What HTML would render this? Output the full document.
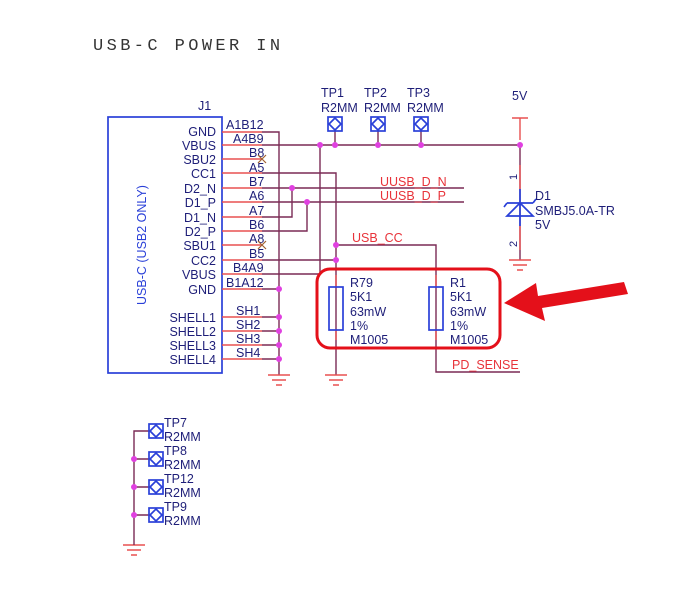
<!DOCTYPE html>
<html><head><meta charset="utf-8"><style>
body{margin:0;background:#fff}
svg{display:block}
text{font-family:"Liberation Sans",sans-serif;font-size:12.5px;fill:#1e1e78}
.r{fill:#e8333a}
.w{stroke:#7a2a55;stroke-width:1.4;fill:none}
.p{stroke:#e85050;stroke-width:1.4;fill:none}
.d{fill:#e040e0}
.b{stroke:#2a40d8;stroke-width:1.7;fill:none}
</style></head><body>
<svg width="674" height="590" viewBox="0 0 674 590">
<rect width="674" height="590" fill="#fff"/>
<text x="93" y="50" style="font-family:'Liberation Mono',monospace;font-size:17px;letter-spacing:3.4px;fill:#333">USB-C POWER IN</text>

<!-- J1 -->
<text x="198" y="110">J1</text>
<rect x="108" y="117" width="114" height="256" class="b"/>
<text x="146" y="245" transform="rotate(-90 146 245)" text-anchor="middle" style="fill:#2a40d8">USB-C (USB2 ONLY)</text>
<g text-anchor="end">
<text x="216" y="136">GND</text><text x="216" y="150">VBUS</text><text x="216" y="164">SBU2</text>
<text x="216" y="178">CC1</text><text x="216" y="193">D2_N</text><text x="216" y="207">D1_P</text>
<text x="216" y="222">D1_N</text><text x="216" y="236">D2_P</text><text x="216" y="250">SBU1</text>
<text x="216" y="265">CC2</text><text x="216" y="279">VBUS</text><text x="216" y="294">GND</text>
<text x="216" y="322">SHELL1</text><text x="216" y="336">SHELL2</text><text x="216" y="350">SHELL3</text><text x="216" y="364">SHELL4</text>
</g>
<g>
<text x="226" y="129">A1B12</text><text x="233" y="143">A4B9</text><text x="249" y="157">B8</text>
<text x="249" y="172">A5</text><text x="249" y="186">B7</text><text x="249" y="200">A6</text>
<text x="249" y="215">A7</text><text x="249" y="229">B6</text><text x="249" y="243">A8</text>
<text x="249" y="258">B5</text><text x="233" y="272">B4A9</text><text x="226" y="287">B1A12</text>
<text x="236" y="315">SH1</text><text x="236" y="329">SH2</text><text x="236" y="343">SH3</text><text x="236" y="357">SH4</text>
</g>
<g class="p">
<path d="M222 132H262M222 145H262M222 159H262M222 173H262M222 188H262M222 202H262M222 217H262M222 231H262M222 245H262M222 260H262M222 274H262M222 289H262M222 317H262M222 331H262M222 345H262M222 359H262"/>
</g>
<g stroke="#a06030" stroke-width="1.2"><path d="M258 155l8 8M266 155l-8 8M258 241l8 8M266 241l-8 8"/></g>
<g class="w">
<path d="M262 132H279V375M262 289H279M262 317H279M262 331H279M262 345H279M262 359H279"/>
<path d="M262 145H520M320 145V274H262"/>
<path d="M262 173H336V375M262 260H336M336 245H436V372H520"/>
<path d="M262 188H464M292 188V217H262M262 202H464M307 202V231H262"/>
<path d="M335 131V145M378 131V145M421 131V145"/>
<path d="M520 145V260"/>
</g>
<g class="p"><path d="M512 118H528M520 118V140M520 165V189M520 226V250"/></g>
<g class="d">
<circle cx="279" cy="289" r="3"/><circle cx="279" cy="317" r="3"/><circle cx="279" cy="331" r="3"/><circle cx="279" cy="345" r="3"/><circle cx="279" cy="359" r="3"/>
<circle cx="320" cy="145" r="3"/><circle cx="335" cy="145" r="3"/><circle cx="378" cy="145" r="3"/><circle cx="421" cy="145" r="3"/><circle cx="520" cy="145" r="3"/>
<circle cx="292" cy="188" r="3"/><circle cx="307" cy="202" r="3"/><circle cx="336" cy="245" r="3"/><circle cx="336" cy="260" r="3"/>
</g>
<text x="321" y="97">TP1</text><text x="364" y="97">TP2</text><text x="407" y="97">TP3</text>
<text x="321" y="112">R2MM</text><text x="364" y="112">R2MM</text><text x="407" y="112">R2MM</text>
<g class="b">
<rect x="328" y="117" width="14" height="14"/><path d="M335 118l6 6-6 6-6-6z"/>
<rect x="371" y="117" width="14" height="14"/><path d="M378 118l6 6-6 6-6-6z"/>
<rect x="414" y="117" width="14" height="14"/><path d="M421 118l6 6-6 6-6-6z"/>
</g>
<text x="512" y="100">5V</text>
<text x="517" y="180" transform="rotate(-90 517 180)" style="font-size:11px">1</text>
<text x="517" y="247" transform="rotate(-90 517 247)" style="font-size:11px">2</text>
<g class="b"><path d="M520 189V226M507 216H533L520 203Z M507 203H533M507 203l-3 4M533 203l3 -4"/></g>
<text x="535" y="200">D1</text><text x="535" y="215">SMBJ5.0A-TR</text><text x="535" y="229">5V</text>
<text x="380" y="186" class="r">UUSB_D_N</text><text x="380" y="200" class="r">UUSB_D_P</text>
<text x="352" y="242" class="r">USB_CC</text><text x="452" y="369" class="r">PD_SENSE</text>
<g class="p"><path d="M336 275V287M336 330V340M436 275V287M436 330V340"/></g>
<g class="b"><rect x="329" y="287" width="14" height="43"/><rect x="429" y="287" width="14" height="43"/></g>
<text x="350" y="287">R79</text><text x="350" y="301">5K1</text><text x="350" y="316">63mW</text><text x="350" y="330">1%</text><text x="350" y="344">M1005</text>
<text x="450" y="287">R1</text><text x="450" y="301">5K1</text><text x="450" y="316">63mW</text><text x="450" y="330">1%</text><text x="450" y="344">M1005</text>
<g class="p">
<path d="M268 375H290M272 380H286M276 385H282"/>
<path d="M325 375H347M329 380H343M333 385H339"/>
<path d="M509 260H531M513 265H527M517 270H523"/>
<path d="M123 545H145M127 550H141M131 555H137"/>
</g>
<rect x="317" y="269" width="183" height="79" rx="13" fill="none" stroke="#e4101a" stroke-width="3"/>
<path d="M624 282L628 294L542 308L545 321L504 303L536 283L538 296Z" fill="#e4101a"/>
<g class="w"><path d="M134 545V431H149M134 459H149M134 487H149M134 515H149"/></g>
<g class="d"><circle cx="134" cy="459" r="3"/><circle cx="134" cy="487" r="3"/><circle cx="134" cy="515" r="3"/></g>
<g class="b">
<rect x="149" y="424" width="14" height="14"/><path d="M156 425l6 6-6 6-6-6z"/>
<rect x="149" y="452" width="14" height="14"/><path d="M156 453l6 6-6 6-6-6z"/>
<rect x="149" y="480" width="14" height="14"/><path d="M156 481l6 6-6 6-6-6z"/>
<rect x="149" y="508" width="14" height="14"/><path d="M156 509l6 6-6 6-6-6z"/>
</g>
<text x="164" y="427">TP7</text><text x="164" y="441">R2MM</text>
<text x="164" y="455">TP8</text><text x="164" y="469">R2MM</text>
<text x="164" y="483">TP12</text><text x="164" y="497">R2MM</text>
<text x="164" y="511">TP9</text><text x="164" y="525">R2MM</text>
</svg>
</body></html>
